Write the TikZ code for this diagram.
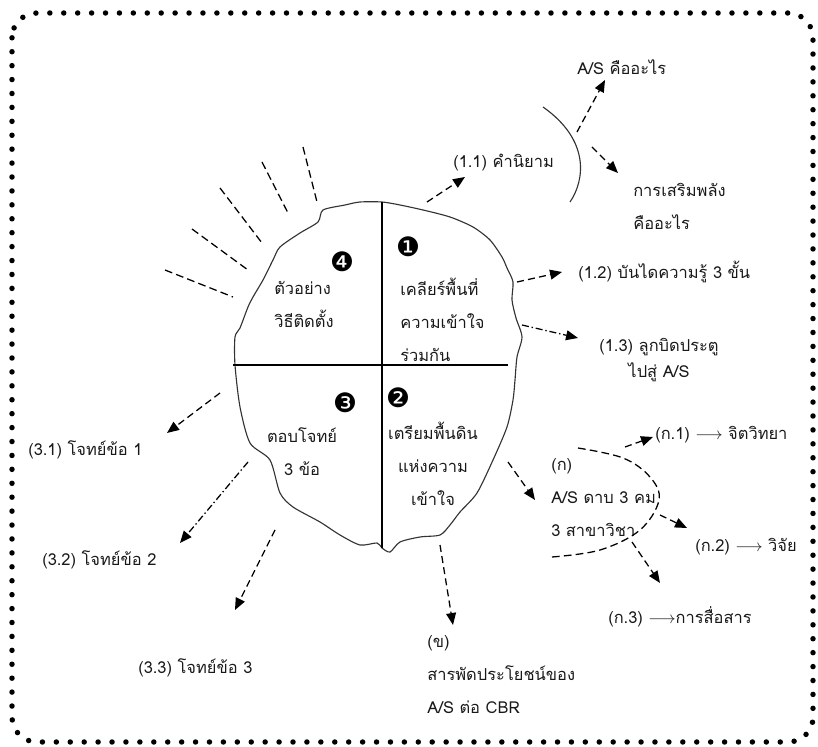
\documentclass[tikz,border=0pt]{standalone}
\usepackage{fontspec}
\setmainfont[Script=Thai]{Loma}
\newfontfamily\dingfont{DejaVu Sans}
\usetikzlibrary{arrows.meta}

\tikzset{
	dasharrow/.style={line width=0.9pt, dash pattern=on 5pt off 3pt, -{Triangle[length=8.5pt,width=7pt]}},
	dotarrow/.style={line width=0.9pt, dash pattern=on 5pt off 2pt on 1pt off 2pt, -{Triangle[length=8.5pt,width=7pt]}},
	ray/.style={line width=0.9pt, dash pattern=on 5.5pt off 3pt},
	lbl/.style={font=\fontsize{11.7}{23.5}\selectfont, text=black!90, inner sep=0pt, anchor=west, align=left},
	quad/.style={font=\fontsize{11.7}{23.5}\selectfont, text=black!90, inner sep=0pt, align=center},
	num/.style={font=\dingfont\fontsize{19}{19}\selectfont, inner sep=0pt}
}

\begin{document}
\begin{tikzpicture}[x=0.025cm, y=-0.025cm]
		\useasboundingbox (0,0) rectangle (818,747);
		% frame
		\draw[line width=3.9pt, line cap=round, dash pattern=on 0pt off 9.9pt, rounded corners=0.62cm]
		(12,13) rectangle (813,742);
		
		% blob
		\draw[line width=0.8pt, black!80] plot[smooth cycle, tension=0.45] coordinates {
			(382,202) (400,205) (423,210) (450,217) (473,227) (490,240) (502,257) (507,268)
			(513,282) (512,300) (516,318) (522,337) (517,357) (515,380) (513,400) (507,427)
			(493,460) (477,493) (460,512) (450,525) (440,535) (420,537) (400,542) (390,552)
			(382,548) (377,543) (360,545) (340,535) (320,522) (293,507) (280,493) (270,460)
			(250,443) (240,407) (235,365) (235,337) (240,328) (248,307) (253,297) (263,280)
			(273,260) (280,247) (300,233) (318,222) (323,210) (345,205) (360,202)};
		\draw[line width=0.8pt] (382,202) -- (382,548);
		\draw[line width=0.8pt] (233,365) -- (508,365);
		
		% rays
		\draw[ray] (303,147) -- (317,202);
		\draw[ray] (262,162) -- (288,213);
		\draw[ray] (220,188) -- (262,243);
		\draw[ray] (192,229) -- (248,270);
		\draw[ray] (165,270) -- (233,297);
		
		% quarters
		\node[num] (n1) at (408,247) {❶};
		\node[lbl] (q1) at (400,320) {เคลียร์พื้นที่\\ความเข้าใจ\\ร่วมกัน};
		\node[num] (n2) at (398,398) {❷};
		\node[quad] (q2) at (433,464) {เตรียมพื้นดิน\\แห่งความ\\เข้าใจ};
		\node[num] (n3) at (345,403) {❸};
		\node[quad] (q3) at (302,452) {ตอบโจทย์\\3 ข้อ};
		\node[num] (n4) at (342,262) {❹};
		\node[lbl] (q4) at (274,304) {ตัวอย่าง\\วิธีติดตั้ง};
		
		% (1.x)
		\coordinate (s11) at (427,202); \coordinate (e11) at (465,177);
		\draw[dasharrow] (s11) -- (e11);
		\node[lbl] (t11) at (453,163) {(1.1) คำนิยาม};
		\draw[line width=0.8pt, black!80] (543,107) .. controls (590,140) and (585,180) .. (570,202);
		\coordinate (sAS) at (577,132); \coordinate (eAS) at (605,80);
		\draw[dasharrow] (sAS) -- (eAS);
		\node[lbl] (tAS) at (577,67) {A/S คืออะไร};
		\coordinate (sES) at (592,147); \coordinate (eES) at (618,173);
		\draw[dasharrow] (sES) -- (eES);
		\node[lbl] (tES) at (633,206) {การเสริมพลัง\\คืออะไร};
		
		\coordinate (s12) at (517,282); \coordinate (e12) at (562,272);
		\draw[dasharrow] (s12) -- (e12);
		\node[lbl] (t12) at (578,272) {(1.2) บันไดความรู้ 3 ขั้น};
		\coordinate (s13) at (522,325); \coordinate (e13) at (578,338);
		\draw[dotarrow] (s13) -- (e13);
		\node[quad, font=\fontsize{11.7}{18}\selectfont] (t13) at (659,360) {(1.3) ลูกบิดประตู\\ไปสู่ A/S};
		
		% (ก)
		\coordinate (sK) at (508,462); \coordinate (eK) at (535,500);
		\draw[dasharrow] (sK) -- (eK);
		\node[lbl] (tK) at (551,498) {(ก)\\A/S ดาบ 3 คม\\3 สาขาวิชา};
		\draw[ray] plot[smooth, tension=0.6] coordinates {(578,448) (623,458) (650,477) (659,500) (640,530) (600,550) (552,557)};
		\coordinate (sK1) at (625,447); \coordinate (eK1) at (653,437);
		\draw[dasharrow] (sK1) -- (eK1);
		\node[lbl] (tK1) at (655,435) {(ก.1) $\longrightarrow$ จิตวิทยา};
		\coordinate (sK2) at (660,515); \coordinate (eK2) at (687,528);
		\draw[dasharrow] (sK2) -- (eK2);
		\node[lbl] (tK2) at (695,547) {(ก.2) $\longrightarrow$ วิจัย};
		\coordinate (sK3) at (632,542); \coordinate (eK3) at (660,583);
		\draw[dasharrow] (sK3) -- (eK3);
		\node[lbl] (tK3) at (608,617) {(ก.3) $\longrightarrow$การสื่อสาร};
		
		% (ข)
		\coordinate (sB) at (440,545); \coordinate (eB) at (453,625);
		\draw[dasharrow] (sB) -- (eB);
		\node[lbl] (tB) at (427,675) {(ข)\\สารพัดประโยชน์ของ\\A/S ต่อ CBR};
		
		% (3.x)
		\coordinate (s31) at (220,393); \coordinate (e31) at (167,433);
		\draw[dasharrow] (s31) -- (e31);
		\node[lbl] (t31) at (28,450) {(3.1) โจทย์ข้อ 1};
		\coordinate (s32) at (248,462); \coordinate (e32) at (180,543);
		\draw[dotarrow] (s32) -- (e32);
		\node[lbl] (t32) at (42,560) {(3.2) โจทย์ข้อ 2};
		\coordinate (s33) at (275,530); \coordinate (e33) at (235,610);
		\draw[dasharrow] (s33) -- (e33);
		\node[lbl] (t33) at (138,668) {(3.3) โจทย์ข้อ 3};
	\end{tikzpicture}
\end{document}
